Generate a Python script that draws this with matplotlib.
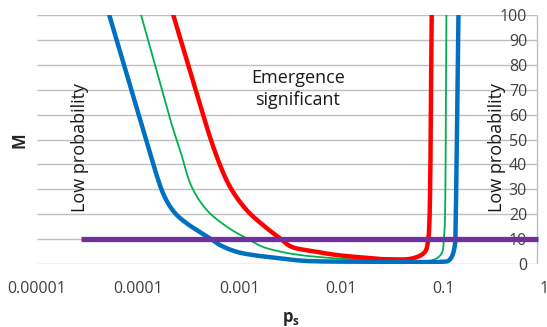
import numpy as np
import matplotlib
matplotlib.use('Agg')
import matplotlib.pyplot as plt

plt.rcParams['font.family'] = ['Open Sans', 'DejaVu Sans']
plt.rcParams['mathtext.fontset'] = 'custom'
plt.rcParams['mathtext.bf'] = 'Open Sans:bold'
plt.rcParams['mathtext.rm'] = 'Open Sans'

# ---- data ----
blue_ps = [5.15e-5, 8.51e-5, 1.30e-4, 1.50e-4, 1.72e-4, 1.98e-4, 2.34e-4, 2.99e-4,
           5.06e-4, 6.35e-4, 9.27e-4, 1.34e-3, 2.48e-3, 4.18e-3, 0.0191, 0.100, 0.112,
           0.122, 0.131, 0.133, 0.137, 0.142]
blue_M = [100, 70, 44.5, 36, 29, 24, 20, 16.3, 10.3, 7.6, 4.9, 3.6, 2.3, 1.3, 0.9, 0.9,
          1.2, 2.9, 7.6, 15, 50, 100]

green_ps = [1.06e-4, 1.70e-4, 2.06e-4, 2.62e-4, 3.34e-4, 4.70e-4, 7.40e-4, 1.16e-3,
            1.65e-3, 2.48e-3, 3.90e-3, 6.87e-3, 0.0130, 0.0796, 0.0970, 0.102, 0.104,
            0.108]
green_M = [100, 70, 57.8, 44.5, 31, 21.7, 15, 10.3, 7.0, 5.0, 3.6, 2.6, 1.9, 1.6, 4.3,
           10.3, 15, 100]

red_ps = [2.20e-4, 3.65e-4, 5.74e-4, 7.97e-4, 1.16e-3, 1.76e-3, 2.48e-3, 3.18e-3,
          5.48e-3, 9.04e-3, 0.0152, 0.0281, 0.0506, 0.0665, 0.0716, 0.0733, 0.0774]
red_M = [100, 70, 44.5, 31, 21.7, 15, 10.3, 7.0, 5.0, 3.6, 2.7, 1.9, 2.3, 4.9,
         10.3, 15.7, 100]

threshold_ps = [2.71e-5, 0.863]
threshold_M = [10, 10]

x_ticks = [1e-5, 1e-4, 1e-3, 1e-2, 1e-1, 1]
x_tick_labels = ['0.00001', '0.0001', '0.001', '0.01', '0.1', '1']
y_ticks = [0, 10, 20, 30, 40, 50, 60, 70, 80, 90, 100]
y_tick_labels = [str(v) for v in y_ticks]
grid_end = 0.843


def smooth_line(ax, xs, ys, n=24, alpha=0.5):
    """Draw-time smoothing (like Excel's 'smoothed line'): centripetal
    Catmull-Rom through the data points, computed in display space."""
    pts = ax.transData.transform(np.column_stack([xs, ys]))
    P = np.vstack([2 * pts[0] - pts[1], pts, 2 * pts[-1] - pts[-2]])
    out = [pts[:1]]
    for i in range(1, len(P) - 2):
        P0, P1, P2, P3 = P[i - 1], P[i], P[i + 1], P[i + 2]
        d01 = max(np.linalg.norm(P1 - P0), 1e-6) ** alpha
        d12 = max(np.linalg.norm(P2 - P1), 1e-6) ** alpha
        d23 = max(np.linalg.norm(P3 - P2), 1e-6) ** alpha
        t0, t1 = 0.0, d01
        t2 = t1 + d12
        t3 = t2 + d23
        t = np.linspace(t1, t2, n)[1:, None]
        A1 = (t1 - t) / (t1 - t0) * P0 + (t - t0) / (t1 - t0) * P1
        A2 = (t2 - t) / (t2 - t1) * P1 + (t - t1) / (t2 - t1) * P2
        A3 = (t3 - t) / (t3 - t2) * P2 + (t - t2) / (t3 - t2) * P3
        B1 = (t2 - t) / (t2 - t0) * A1 + (t - t0) / (t2 - t0) * A2
        B2 = (t3 - t) / (t3 - t1) * A2 + (t - t1) / (t3 - t1) * A3
        C = (t2 - t) / (t2 - t1) * B1 + (t - t1) / (t2 - t1) * B2
        out.append(C)
    D = np.vstack(out)
    data = ax.transData.inverted().transform(D)
    return data[:, 0], data[:, 1]


W, H = 547, 327
fig = plt.figure(figsize=(W / 100, H / 100), dpi=100)
ax = fig.add_axes([37 / W, 1 - 264 / H, (544.5 - 37) / W, (264 - 15) / H])
ax.set_xscale('log')
ax.set_xlim(1e-5, 1)
ax.set_ylim(0, 100)
for s in ax.spines.values():
    s.set_visible(False)

grid_col = '#BFBFBF'
ax.hlines(y_ticks, 1e-5, grid_end, colors=grid_col, lw=1.0, zorder=1)
ax.vlines([grid_end], 0, 100, colors=grid_col, lw=1.0, zorder=1)

gx, gy = smooth_line(ax, green_ps, green_M)
rx, ry = smooth_line(ax, red_ps, red_M)
bx, by = smooth_line(ax, blue_ps, blue_M)
ax.plot(gx, gy, color='#00B050', lw=1.3, zorder=3, solid_joinstyle='round')
ax.plot(rx, ry, color='#FF0000', lw=3.2, zorder=4, solid_joinstyle='round')
ax.plot(bx, by, color='#0070C0', lw=3.2, zorder=5, solid_joinstyle='round')
ax.plot(threshold_ps, threshold_M, color='#7030A0', lw=3.8, zorder=6, solid_capstyle='butt')

tick_col = '#404040'
ax.set_xticks(x_ticks)
ax.set_xticklabels(x_tick_labels)
ax.minorticks_off()
ax.tick_params(axis='x', length=0, pad=12, labelsize=11.5, labelcolor=tick_col)

ax.yaxis.tick_right()
ax.set_yticks(y_ticks)
ax.set_yticklabels(y_tick_labels)
ax.tick_params(axis='y', length=0, pad=-12.6, labelsize=11.5, labelcolor=tick_col)
for lab in ax.get_yticklabels():
    lab.set_horizontalalignment('right')

# axis titles
fig.text(20 / W, 1 - 140 / H, 'M', rotation=90, ha='center', va='center',
         fontsize=12, fontweight='bold', color='#262626')
fig.text(291 / W, 1 - 319 / H, r'$\mathbf{p}_{\mathbf{s}}$', ha='center', va='center',
         fontsize=12, color='#262626')

# annotations
fig.text(298 / W, 1 - 89 / H, 'Emergence\nsignificant', ha='center', va='center',
         fontsize=13, linespacing=1.35, color='#1a1a1a')
fig.text(80 / W, 1 - 147 / H, 'Low probability', rotation=90, ha='center', va='center',
         fontsize=13, color='#1a1a1a')
fig.text(497 / W, 1 - 147 / H, 'Low probability', rotation=90, ha='center', va='center',
         fontsize=13, color='#1a1a1a')

fig.savefig('out.png', dpi=100)
